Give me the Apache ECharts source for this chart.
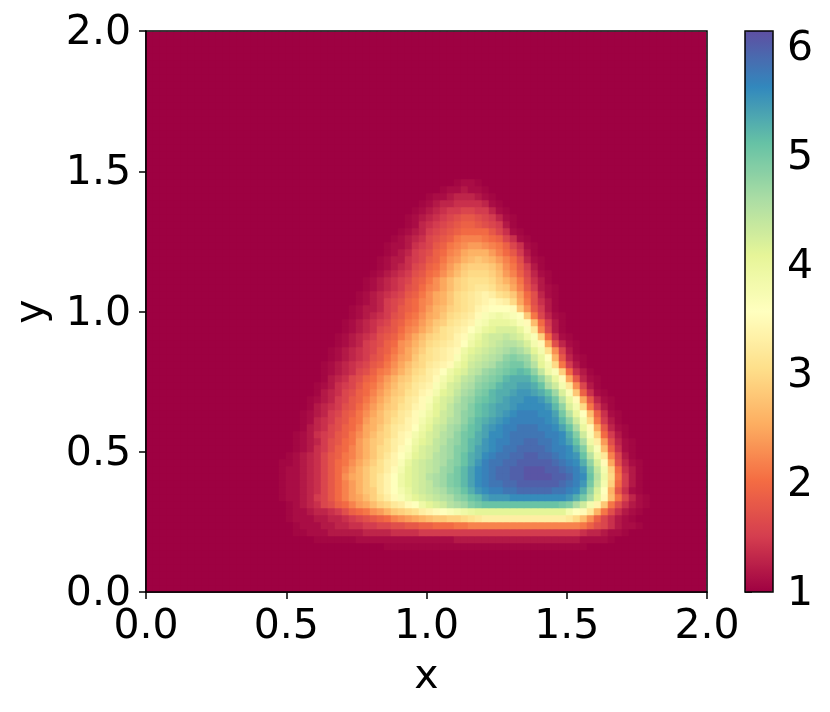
<!DOCTYPE html>
<html><head><meta charset="utf-8">
<style>html,body{margin:0;padding:0;background:#fff}#c{width:830px;height:712px}</style>
<script src="https://cdn.jsdelivr.net/npm/echarts@6/dist/echarts.min.js"></script>
</head><body><div id="c"></div>
<script>
const gridSize = 80;
const background = 1.0;
const axisTicks = [0, 0.5, 1, 1.5, 2];
const colorTicks = [1, 2, 3, 4, 5, 6];
const colorMin = 1, colorMax = 6.15;
const spectral = ['#9e0142','#d53e4f','#f46d43','#fdae61','#fee08b','#ffffbf','#e6f598','#abdda4','#66c2a5','#3288bd','#5e4fa2'];
const firstRow = 6;
const rowStart = [34,24,21,21,20,20,20,19,19,19,19,19,19,20,21,21,21,22,22,22,23,23,24,24,25,25,25,26,26,27,27,28,28,29,29,30,30,31,31,32,33,33,34,34,35,36,37,37,38,39,40,42,44];
const h = 10.5; // faint edge reading, in tenths
// readings in tenths, one list per row from the bottom up
const rowTenths = [
[h,h,h,h,h,h,h,h,h,h,h,h,h,h,h,h,h,h,h,h,h,h,h,h,h,h,h,h,h],
[h,h,h,h,h,h,11,11,11,11,11,11,11,11,11,11,11,11,11,11,12,12,12,12,12,12,12,12,12,12,12,12,12,12,12,12,12,12,11,11,11,11,h],
[h,h,11,11,11,12,12,12,12,12,13,13,13,13,14,14,14,14,15,15,15,15,15,15,15,15,15,15,15,15,15,15,15,15,15,15,15,15,15,15,15,14,13,13,12,11,11,h],
[h,11,11,11,12,12,13,13,14,14,15,15,16,16,17,17,18,18,19,19,20,20,20,21,21,22,22,22,22,22,22,22,22,22,22,22,22,22,22,22,22,21,19,17,16,14,12,11,11,h],
[h,11,11,11,12,12,13,13,14,15,16,17,18,19,20,22,23,24,25,26,27,28,28,29,29,30,31,32,33,33,33,33,33,33,33,33,33,33,33,33,32,30,27,23,19,16,14,12,11,h],
[h,11,11,12,13,13,14,15,17,19,20,21,23,24,26,28,29,30,31,33,34,35,36,37,38,39,40,41,41,41,41,41,41,41,41,41,41,41,41,41,38,36,35,32,26,21,17,14,12,11,h],
[h,11,12,13,14,16,17,19,20,22,24,25,27,29,30,32,33,35,36,39,41,42,43,45,46,47,49,50,51,51,51,51,51,51,51,51,51,51,51,50,49,46,43,38,34,28,21,17,14,12,11,h],
[h,11,11,12,13,15,16,18,20,22,24,25,27,29,31,33,35,37,39,41,42,43,44,45,46,48,49,51,52,54,55,55,55,56,56,56,56,56,56,56,56,55,53,50,46,41,35,27,21,16,13,11,h],
[h,11,11,12,13,14,16,18,20,22,24,26,28,29,32,34,36,38,40,42,43,44,45,46,48,49,51,53,55,56,57,57,58,58,59,59,59,59,59,58,58,57,56,53,48,42,36,26,18,14,11,h],
[h,11,11,12,13,14,16,18,20,22,24,26,28,30,32,34,36,39,41,42,43,44,46,47,49,50,52,54,56,57,58,58,59,59,60,60,60,60,60,60,59,58,57,55,50,44,38,29,20,15,12,h],
[h,11,11,12,13,14,16,18,20,23,25,26,28,30,32,34,36,39,41,42,43,45,46,47,49,50,52,54,56,57,58,59,59,60,60,61,61,61,61,60,60,59,57,56,51,45,39,30,21,15,12,h],
[h,11,11,12,13,14,16,18,20,22,24,26,28,30,31,33,35,38,41,42,43,44,45,47,48,50,52,54,56,57,58,59,59,60,60,61,61,61,60,60,59,58,57,55,50,44,38,29,20,14,12,h],
[h,h,11,12,13,14,16,18,20,21,23,25,27,29,31,33,34,37,40,42,43,44,45,46,48,49,51,53,55,57,58,58,59,59,60,60,60,60,60,59,58,57,56,53,48,42,35,25,17,13,11,h],
[h,11,12,13,14,16,18,19,21,22,24,26,28,30,32,34,36,38,41,42,43,45,46,47,49,51,53,54,56,57,58,58,59,59,60,60,59,59,58,57,56,55,51,45,39,32,22,16,12,h],
[h,11,12,14,15,17,19,20,22,24,26,28,30,31,33,35,37,40,42,43,44,46,47,49,50,52,54,55,56,57,58,58,59,59,59,59,58,57,57,56,53,49,42,37,27,19,14,11,h],
[h,11,12,13,15,17,18,20,21,24,26,28,29,31,33,34,36,39,41,42,44,45,47,48,50,52,53,55,56,57,57,58,58,59,59,58,58,57,56,54,51,46,39,33,24,17,13,11,h],
[h,11,12,14,15,16,18,19,21,23,25,27,29,30,32,34,35,38,40,42,43,45,46,48,50,51,53,54,56,56,57,58,58,58,58,58,57,57,56,53,49,43,37,29,20,15,12,h],
[h,12,13,14,16,17,19,20,22,25,26,28,30,32,33,34,36,39,41,43,44,46,47,49,51,52,54,55,56,57,57,58,58,58,57,57,56,54,51,46,40,35,25,18,13,11,h],
[h,11,13,14,15,17,18,20,21,24,26,27,29,31,32,34,35,38,40,42,43,45,46,48,50,52,53,54,55,56,57,57,57,57,57,56,55,52,48,43,38,30,21,15,12,h],
[h,11,12,13,15,16,18,19,21,23,25,27,29,30,32,33,35,37,39,41,43,44,46,48,49,51,52,53,54,55,56,57,57,57,56,56,54,50,45,40,36,27,19,14,11,h],
[h,12,13,14,15,17,18,20,22,24,26,28,29,31,32,34,35,38,41,42,44,46,47,49,51,52,53,54,54,55,56,56,56,56,55,52,48,42,38,30,21,15,12,h],
[h,11,12,13,15,16,18,19,21,23,25,27,29,30,32,33,35,37,40,42,43,45,47,48,50,51,52,53,54,55,55,56,56,55,53,50,45,40,35,25,18,13,11,h],
[h,12,13,14,16,17,19,20,22,24,26,28,29,31,32,34,35,38,41,42,44,46,47,49,50,52,53,53,54,55,55,54,53,51,47,42,37,28,19,14,11,h],
[h,11,12,14,15,16,18,20,21,23,25,27,29,30,32,33,34,37,39,42,43,45,46,48,49,50,52,53,53,54,54,53,51,46,43,38,32,23,16,12,h],
[h,12,13,14,16,17,19,20,22,24,26,28,29,31,32,33,35,38,40,42,44,45,47,48,49,50,52,53,53,53,51,48,44,40,35,25,18,13,11,h],
[h,11,12,13,14,16,17,19,21,22,24,26,28,30,31,33,34,36,39,41,42,44,45,47,48,49,50,51,52,51,48,44,39,37,29,20,14,12,h],
[h,11,12,13,14,15,16,18,19,21,23,25,27,29,30,32,33,34,35,39,41,43,44,45,46,48,49,50,50,48,45,41,38,30,21,15,12,h],
[h,11,12,13,14,15,17,18,20,22,24,25,28,30,31,32,33,34,37,40,42,43,44,45,46,48,49,48,47,43,40,36,26,18,13,11,h],
[h,11,12,13,14,15,16,18,19,21,23,25,27,29,31,32,33,34,35,39,41,42,43,44,45,46,47,46,44,41,38,31,23,16,12,h],
[h,11,12,13,15,16,17,19,20,23,24,26,28,30,31,32,33,34,36,39,41,42,43,44,45,45,44,42,38,35,25,17,13,11,h],
[h,11,12,13,14,15,17,18,19,21,23,25,27,29,30,31,32,34,35,38,40,42,43,43,44,43,42,39,37,29,20,14,11,h],
[h,11,12,13,14,16,17,18,20,22,23,25,27,29,31,32,33,34,36,38,40,41,42,42,42,40,37,32,22,16,12,h],
[h,11,12,13,14,15,16,18,19,21,22,24,26,28,29,31,32,33,34,37,38,40,40,40,39,37,35,27,20,15,12,h],
[h,11,12,13,14,15,17,18,20,21,23,25,26,28,30,31,32,33,35,37,38,39,38,37,36,28,21,16,13,11,h],
[h,11,12,12,13,15,16,18,19,20,22,24,26,27,29,30,31,32,34,35,36,36,36,35,28,23,18,15,12,h],
[h,11,12,13,15,16,17,19,20,22,23,25,26,28,30,31,32,33,34,35,34,33,30,25,21,17,14,12,h],
[h,11,12,13,14,15,16,18,19,21,23,25,26,28,30,31,32,33,34,33,31,30,28,24,20,17,13,11,h],
[h,11,12,13,14,15,17,18,20,22,23,25,27,29,30,31,32,32,31,29,28,25,22,18,15,12,11,h],
[h,11,12,13,14,15,16,18,19,21,23,25,27,29,30,31,31,31,30,28,26,24,21,17,14,12,h],
[h,11,12,13,14,15,17,18,20,21,23,25,27,29,30,30,30,29,27,24,22,19,16,13,11,h],
[h,11,12,13,14,16,17,19,20,22,24,26,28,29,29,29,28,26,23,21,18,15,12,h],
[h,11,12,12,14,15,16,18,19,21,23,24,26,27,28,27,26,24,22,20,17,13,11,h],
[h,11,12,13,15,16,17,19,20,22,23,25,26,26,26,24,22,20,18,15,12,h],
[h,11,11,12,14,15,16,18,19,21,22,23,24,24,23,22,21,19,16,14,11,h],
[h,11,12,13,14,16,17,18,19,21,22,22,22,21,20,19,16,14,11,h],
[h,11,12,13,15,16,17,18,19,20,20,20,20,18,16,14,11,h],
[h,11,13,14,15,16,17,18,19,19,18,17,16,15,12,h],
[h,11,12,13,14,15,16,17,18,18,17,16,15,13,11,h],
[h,11,12,13,14,15,15,16,16,15,15,13,11,h],
[h,11,12,13,13,14,14,14,14,13,11,h],
[h,11,11,12,13,13,13,12,11,h],
[h,11,11,12,11,11,h],
[h,11,11,h]
];
const cats = Array.from({length: gridSize}, (_, i) => String(i));
const data = [];
for (let j = 0; j < gridSize; j++) {
  for (let i = 0; i < gridSize; i++) {
    let v = background;
    const r = j - firstRow;
    if (r >= 0 && r < rowTenths.length) {
      const k = i - rowStart[r];
      if (k >= 0 && k < rowTenths[r].length) v = rowTenths[r][k] / 10;
    }
    data.push([i, j, v]);
  }
}
const font = 'DejaVu Sans';
const fs = 41;
const lineS = {color: '#000', width: 1.5};
const chart = echarts.init(document.getElementById('c'), null, {renderer: 'canvas'});
chart.setOption({
  animation: false,
  backgroundColor: '#fff',
  grid: [
    {left: 146, top: 32, width: 560, height: 560, show: true, backgroundColor: '#9e0142', borderWidth: 0},
    {left: 146, top: 31, width: 561, height: 561},
    {left: 745, top: 31, width: 28, height: 561}
  ],
  xAxis: [
    {type: 'category', data: cats, gridIndex: 0, show: false},
    {type: 'value', gridIndex: 1, position: 'bottom', min: 0, max: 2, interval: 0.5,
     name: 'x', nameLocation: 'middle', nameGap: 65,
     nameTextStyle: {fontFamily: font, fontSize: fs, color: '#000'},
     axisLine: {show: true, onZero: false, lineStyle: lineS},
     axisTick: {show: true, length: 7, lineStyle: lineS},
     splitLine: {show: false},
     axisLabel: {show: true, margin: 15, fontFamily: font, fontSize: fs, color: '#000', hideOverlap: false, showMinLabel: true, showMaxLabel: true,
       formatter: v => v.toFixed(1), customValues: axisTicks}},
    {type: 'value', gridIndex: 2, show: false, min: 0, max: 1}
  ],
  yAxis: [
    {type: 'category', data: cats, gridIndex: 0, show: false},
    {type: 'value', gridIndex: 1, position: 'left', min: 0, max: 2, interval: 0.5,
     name: 'y', nameLocation: 'middle', nameGap: 93,
     nameTextStyle: {fontFamily: font, fontSize: fs, color: '#000'},
     axisLine: {show: true, onZero: false, lineStyle: lineS},
     axisTick: {show: true, length: 7, lineStyle: lineS},
     splitLine: {show: false},
     axisLabel: {show: true, margin: 15, verticalAlign: 'top', lineHeight: 5, fontFamily: font, fontSize: fs, color: '#000', hideOverlap: false, showMinLabel: true, showMaxLabel: true,
       formatter: v => v.toFixed(1), customValues: axisTicks}},
    {type: 'value', gridIndex: 2, position: 'right', min: colorMin, max: colorMax,
     axisLine: {show: false},
     axisTick: {show: true, length: 7, lineStyle: lineS, customValues: colorTicks},
     splitLine: {show: false},
     axisLabel: {show: true, margin: 14, verticalAlign: 'top', lineHeight: 5, fontFamily: font, fontSize: fs, color: '#000', hideOverlap: false,
       formatter: v => String(v), customValues: colorTicks}}
  ],
  visualMap: {
    type: 'continuous', seriesIndex: 0, min: colorMin, max: colorMax, show: true, calculable: false,
    left: 745, top: 31, itemWidth: 28, itemHeight: 561, padding: 0, text: null, showLabel: false,
    inRange: {color: spectral}, z: 1
  },
  series: [{
    type: 'heatmap', xAxisIndex: 0, yAxisIndex: 0, data: data, progressive: 0,
    emphasis: {disabled: true}, itemStyle: {borderWidth: 0}
  }],
  graphic: [
    {type: 'rect', z: 100, silent: true, shape: {x: 146, y: 31, width: 561, height: 561}, style: {fill: 'none', stroke: '#000', lineWidth: 1.5}},
    {type: 'rect', z: 100, silent: true, shape: {x: 745, y: 31, width: 28, height: 561}, style: {fill: 'none', stroke: '#000', lineWidth: 1.5}}
  ]
});
</script></body></html>
